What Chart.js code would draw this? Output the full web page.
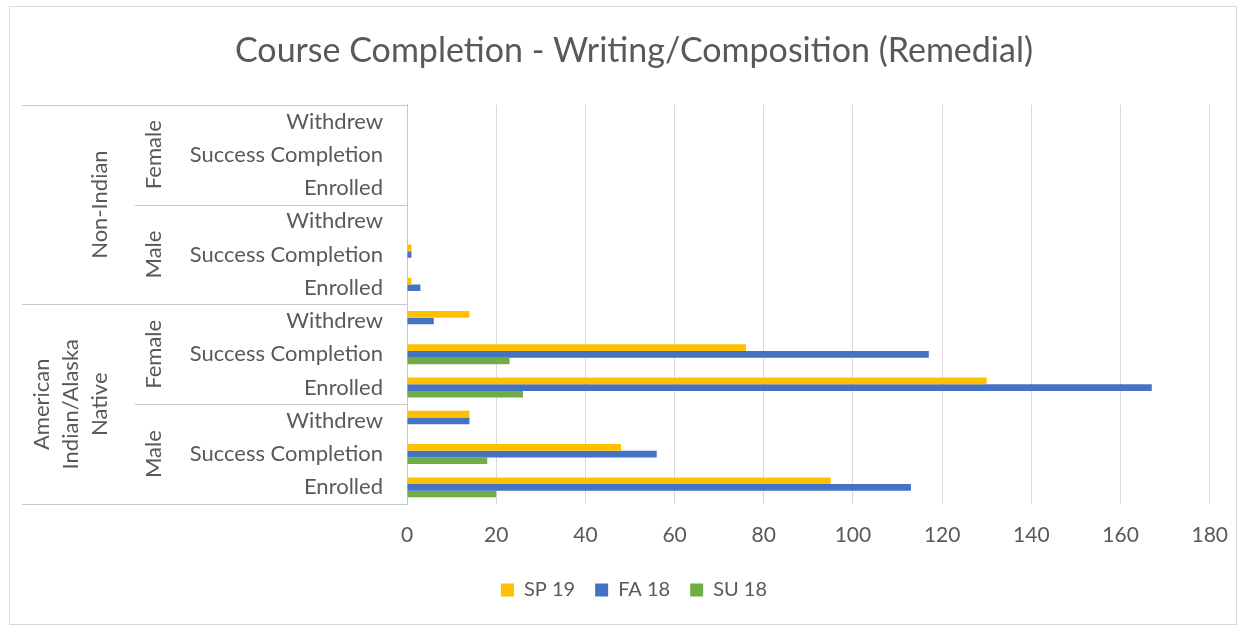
<!DOCTYPE html>
<html lang="en">
<head>
<meta charset="UTF-8">
<title>Course Completion - Writing/Composition (Remedial)</title>
<script src="https://cdn.jsdelivr.net/npm/chart.js"></script>
<style>
  html, body { margin: 0; padding: 0; background: #fff; }
  #wrap { width: 1247px; height: 629px; position: relative; }
</style>
</head>
<body>
<div id="wrap"><canvas id="chart"></canvas></div>
<script>
// category levels, outer to inner (top to bottom as drawn)
const groups = [['Non-Indian'], ['American', 'Indian/Alaska', 'Native']];
const genders = ['Female', 'Male'];
const outcomes = ['Withdrew', 'Success Completion', 'Enrolled'];

// values, same order as the rows (top to bottom)
const sp19 = [0, 0, 0, 0, 1, 1, 14, 76, 130, 14, 48, 95];
const fa18 = [0, 0, 0, 0, 1, 3, 6, 117, 167, 14, 56, 113];
const su18 = [0, 0, 0, 0, 0, 0, 0, 23, 26, 0, 18, 20];

const xTicks = [0, 20, 40, 60, 80, 100, 120, 140, 160, 180];

const labels = [];
groups.forEach(() => genders.forEach(() => outcomes.forEach(o => labels.push(o))));

const FONT = 'Lato';
const TEXT = '#595959';
const LINE = '#c8c8c8';

// draws the outer two category levels and their separator lines
const multiLevel = {
    id: 'multiLevel',
    beforeDraw(chart) {
        const ctx = chart.ctx;
        ctx.save();
        ctx.fillStyle = '#fff';
        ctx.fillRect(0, 0, chart.width, chart.height);
        ctx.strokeStyle = '#d9d9d9';
        ctx.lineWidth = 1;
        ctx.strokeRect(9.5, 6.5, 1227, 618);
        ctx.restore();
    },
    afterDraw(chart) {
        const ctx = chart.ctx;
        const area = chart.chartArea;
        const y = chart.scales.y;
        const band = (y.bottom - y.top) / labels.length;
        const left = area.left;
        const outerX = left - 385;
        const genderX = left - 272;

        ctx.save();
        ctx.strokeStyle = LINE;
        ctx.lineWidth = 1;
        const hline = (x0, yy) => {
            const py = Math.round(yy) + 0.5;
            ctx.beginPath();
            ctx.moveTo(x0, py);
            ctx.lineTo(left, py);
            ctx.stroke();
        };
        hline(outerX, y.top);

        ctx.fillStyle = TEXT;
        ctx.font = '22px ' + FONT;
        ctx.textAlign = 'center';
        ctx.textBaseline = 'middle';

        const perGroup = genders.length * outcomes.length;
        groups.forEach((g, gi) => {
            const gTop = y.top + gi * perGroup * band;
            const gBot = gTop + perGroup * band;
            genders.forEach((s, si) => {
                const sTop = gTop + si * outcomes.length * band;
                const sBot = sTop + outcomes.length * band;
                if (si < genders.length - 1) hline(genderX, sBot);
                ctx.save();
                ctx.translate(left - 253, (sTop + sBot) / 2);
                ctx.rotate(-Math.PI / 2);
                ctx.fillText(s, 0, 0);
                ctx.restore();
            });
            hline(outerX, gBot);
            ctx.save();
            ctx.translate(left - 337, (gTop + gBot) / 2);
            ctx.rotate(-Math.PI / 2);
            g.forEach((line, li) => {
                ctx.fillText(line, 0, (li - (g.length - 1)) * 29 + 30);
            });
            ctx.restore();
        });
        ctx.restore();
    }
};

new Chart(document.getElementById('chart'), {
    type: 'bar',
    data: {
        labels,
        datasets: [
            { label: 'SP 19', data: sp19, backgroundColor: '#FFC000' },
            { label: 'FA 18', data: fa18, backgroundColor: '#4472C4' },
            { label: 'SU 18', data: su18, backgroundColor: '#70AD47' }
        ]
    },
    options: {
        indexAxis: 'y',
        responsive: true,
        maintainAspectRatio: false,
        animation: false,
        categoryPercentage: 0.6,
        barPercentage: 1.0,
        layout: { padding: { left: 57, right: 36, top: 0, bottom: 19 } },
        scales: {
            x: {
                min: 0,
                max: 180,
                afterBuildTicks: axis => { axis.ticks = xTicks.map(v => ({ value: v })); },
                afterFit: axis => { axis.height = 56; },
                grid: { color: '#d9d9d9', drawTicks: false },
                border: { display: false },
                ticks: { color: TEXT, font: { family: FONT, size: 21 }, padding: 19 }
            },
            y: {
                afterFit: axis => { axis.width = 350; },
                grid: { display: false, drawTicks: false },
                border: { display: true, color: LINE },
                ticks: { color: TEXT, font: { family: FONT, size: 22 }, padding: 24, autoSkip: false }
            }
        },
        plugins: {
            title: {
                display: true,
                text: 'Course Completion - Writing/Composition (Remedial)',
                color: TEXT,
                font: { family: FONT, size: 34, weight: 'normal' },
                padding: { top: 31, bottom: 33 }
            },
            legend: {
                position: 'bottom',
                labels: {
                    color: TEXT,
                    font: { family: FONT, size: 20 },
                    boxWidth: 13,
                    boxHeight: 13,
                    padding: 20
                }
            },
            tooltip: { enabled: false }
        }
    },
    plugins: [multiLevel]
});
</script>
</body>
</html>
